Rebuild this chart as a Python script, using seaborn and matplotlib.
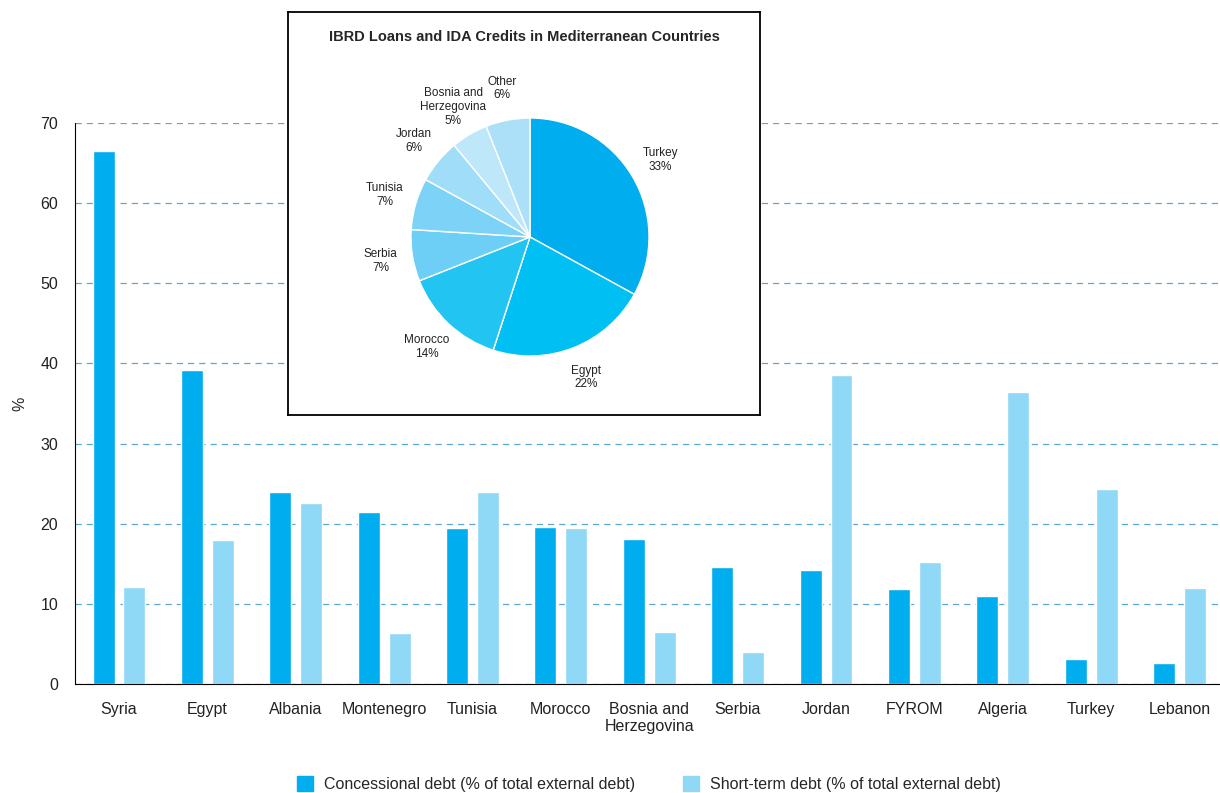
import matplotlib.pyplot as plt
import pandas as pd
import seaborn as sns

# Data
countries = ["Syria", "Egypt", "Albania", "Montenegro", "Tunisia", "Morocco",
             "Bosnia and\nHerzegovina", "Serbia", "Jordan", "FYROM", "Algeria",
             "Turkey", "Lebanon"]
concessional = [66.5, 39.2, 24.0, 21.5, 19.5, 19.6, 18.1, 14.6, 14.2, 11.9, 11.0, 3.1, 2.6]
short_term = [12.1, 18.0, 22.6, 6.4, 24.0, 19.5, 6.5, 4.0, 38.6, 15.2, 36.4, 24.3, 12.0]
series_names = ["Concessional debt (% of total external debt)",
                "Short-term debt (% of total external debt)"]

pie_labels = ["Turkey", "Egypt", "Morocco", "Serbia", "Tunisia", "Jordan",
              "Bosnia and\nHerzegovina", "Other"]
pie_shares = [33, 22, 14, 7, 7, 6, 5, 6]
pie_colors = ["#00AEEF", "#00BFF3", "#22C4F2", "#6DCFF6", "#7DD3F7", "#A0DDF8",
              "#BFE7FA", "#ACE0F9"]

sns.set_style("white")
plt.rcParams['font.family'] = ['Liberation Sans', 'DejaVu Sans']

df = pd.DataFrame({
    "country": countries * 2,
    "value": concessional + short_term,
    "series": [series_names[0]] * len(countries) + [series_names[1]] * len(countries),
})

fig = plt.figure(figsize=(12.2, 7.93), dpi=100)
ax = fig.add_axes([75 / 1220, 109 / 793, 1145 / 1220, 561 / 793])

sns.barplot(df, x="country", y="value", hue="series", ax=ax,
            palette=["#00AEEF", "#8FD8F6"], width=0.7, gap=0.29,
            saturation=1, legend=False)

ax.set_ylim(0, 70)
ax.set_xlim(-0.498, 12.458)
ax.set_yticks(range(0, 71, 10))
ax.yaxis.grid(True, linestyle=(0, (5, 4)), color="#5aa8d2", linewidth=0.9)
ax.set_axisbelow(True)
for s in ["top", "right"]:
    ax.spines[s].set_visible(False)
ax.spines["left"].set_color("black")
ax.spines["bottom"].set_color("black")
ax.tick_params(axis="y", length=7, width=0.8, color="black", labelsize=11.5, pad=5,
               labelcolor="#222222")
ax.tick_params(axis="x", length=0, labelsize=11.5, pad=13, labelcolor="#222222")
ax.set_xlabel("")
ax.set_ylabel("%", fontsize=11.5)
ax.yaxis.set_label_coords(-0.042, 0.5)

# Legend
handles = [plt.Rectangle((0, 0), 1, 1, color=c) for c in ["#00AEEF", "#8FD8F6"]]
fig.legend(handles, series_names, loc="lower center", bbox_to_anchor=(0.532, -0.017),
           ncol=2, frameon=False, fontsize=11.5, handlelength=1.0, handleheight=1.0,
           handletextpad=0.7, columnspacing=3.0)

# Inset box with pie
box = fig.add_axes([288 / 1220, (793 - 415) / 793, 472 / 1220, 403 / 793])
box.set_xticks([])
box.set_yticks([])
box.set_facecolor("white")
for s in box.spines.values():
    s.set_color("black")
    s.set_linewidth(1.3)
box.text(0.5, 0.938, "IBRD Loans and IDA Credits in Mediterranean Countries",
         transform=box.transAxes, ha="center", va="center",
         fontsize=10.5, fontweight="bold")

pax = fig.add_axes([411 / 1220, (793 - 356) / 793, 238 / 1220, 238 / 793])
labels = [f"{l}\n{v}%" for l, v in zip(pie_labels, pie_shares)]
wedges, texts = pax.pie(pie_shares, labels=labels, colors=pie_colors, startangle=90,
                        counterclock=False, labeldistance=1.27,
                        wedgeprops=dict(edgecolor="white", linewidth=1.0),
                        textprops=dict(fontsize=8.5, color="#222222"))
for t in texts:
    t.set_horizontalalignment("center")
    t.set_verticalalignment("center")
    t.set_multialignment("center")
pax.set_xlim(-1, 1)
pax.set_ylim(-1, 1)
pax.set_aspect("equal")

fig.savefig("out.png", dpi=100)
